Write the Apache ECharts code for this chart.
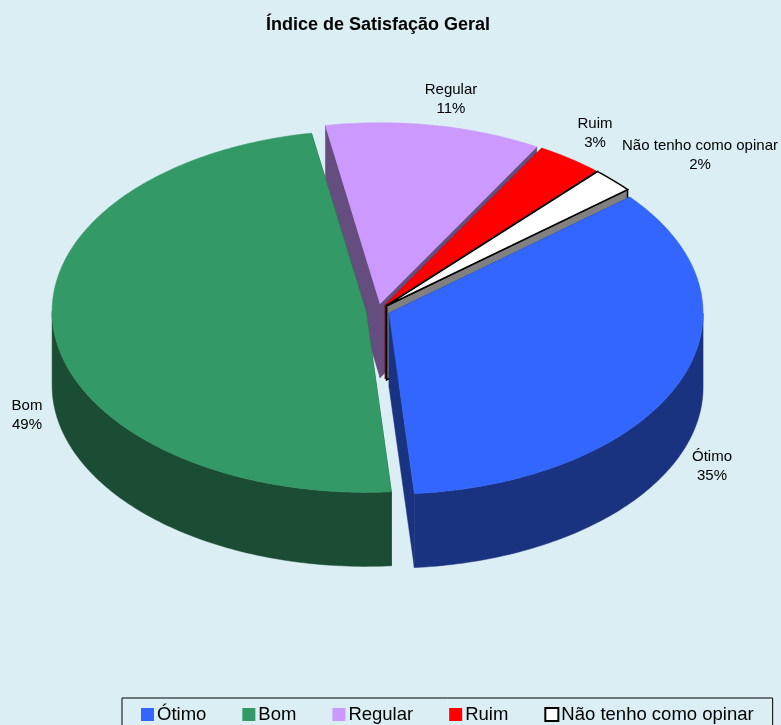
<!DOCTYPE html>
<html>
<head>
<meta charset="utf-8" />
<style>
  html, body { margin: 0; padding: 0; background: #daeef3; overflow: hidden; }
  #chart { width: 781px; height: 725px; }
</style>
</head>
<body>
<div id="chart"></div>
<script src="https://cdn.jsdelivr.net/npm/echarts@6/dist/echarts.min.js"></script>
<script>
const categories = ["Ótimo", "Bom", "Regular", "Ruim", "Não tenho como opinar"];
// shares, the printed labels are these rounded
const shares = [34.8, 48.5, 11.1, 3.4, 2.2];

const topColors = ["#3366ff", "#339966", "#cc99ff", "#ff0000", "#ffffff"];
const sideColors = ["#1a3380", "#1a4d33", "#664d80", "#800000", "#808080"];
const outlineColors = [null, null, null, null, "#000000"];
// back slices first, the front ones paint over them
const stacking = [5, 4, 1, 2, 3];
const labelSpots = [[712, 466], [27, 415], [451, 99], [595, 133], [700, 155]];

const font = "Liberation Sans, Arial, sans-serif";
const pie = { cx: 378, cy: 310.5, rx: 314, ry: 181, depth: 74, explode: 12, startAngle: 39.9 };

const total = shares.reduce((a, b) => a + b, 0);

function rimPoint(c, deg, drop) {
  const r = (deg * Math.PI) / 180;
  return [c[0] + pie.rx * Math.cos(r), c[1] - pie.ry * Math.sin(r) + (drop || 0)];
}

function arcPoints(c, from, to, drop) {
  const steps = Math.max(2, Math.ceil(Math.abs(to - from)));
  const pts = [];
  for (let i = 0; i <= steps; i++) {
    pts.push(rimPoint(c, from + ((to - from) * i) / steps, drop));
  }
  return pts;
}

function renderSlice(index) {
  return function (params, api) {
    const value = api.value(0);
    let before = 0;
    for (let i = 0; i < index; i++) before += shares[i];
    // the pie runs clockwise from startAngle
    const a0 = pie.startAngle - (before / total) * 360;
    const a1 = a0 - (value / total) * 360;
    const mid = ((a0 + a1) / 2) * (Math.PI / 180);
    const c = [
      pie.cx + pie.explode * Math.cos(mid),
      pie.cy - (pie.explode * pie.ry * Math.sin(mid)) / pie.rx,
    ];
    const low = [c[0], c[1] + pie.depth];
    const outlined = outlineColors[index];
    const side = { fill: sideColors[index], stroke: outlined || sideColors[index], lineWidth: outlined ? 1.5 : 0.5 };
    const children = [];

    // the two cut faces
    [a0, a1].forEach((a) => {
      const rim = rimPoint(c, a);
      const rimLow = rimPoint(c, a, pie.depth);
      children.push({ type: "polygon", shape: { points: [c, rim, rimLow, low] }, style: side });
    });

    // outer wall, only the part that faces the viewer
    for (let turn = -360; turn <= 0; turn += 360) {
      const from = Math.min(turn, a0);
      const to = Math.max(turn - 180, a1);
      if (from > to) {
        children.push({
          type: "polygon",
          shape: { points: arcPoints(c, from, to, 0).concat(arcPoints(c, to, from, pie.depth)) },
          style: side,
        });
      }
    }
    children.push({
      type: "polygon",
      shape: { points: [c].concat(arcPoints(c, a0, a1, 0)) },
      style: { fill: topColors[index], stroke: outlined || topColors[index], lineWidth: outlined ? 1.5 : 0.5 },
    });

    children.push({
      type: "text",
      x: labelSpots[index][0],
      y: labelSpots[index][1],
      style: {
        text: categories[index] + "\n" + Math.round(value) + "%",
        fill: "#000000",
        font: "15px " + font,
        lineHeight: 19,
        align: "center",
        verticalAlign: "middle",
      },
    });
    return { type: "group", children };
  };
}

const chart = echarts.init(document.getElementById("chart"), null, { renderer: "canvas" });

chart.setOption({
  animation: false,
  backgroundColor: "#daeef3",
  title: {
    text: "Índice de Satisfação Geral",
    left: 378,
    top: 16,
    padding: 0,
    textAlign: "center",
    textStyle: { fontFamily: font, fontSize: 18, fontWeight: "bold", color: "#000000" },
  },
  legend: {
    left: 122,
    top: 698,
    orient: "horizontal",
    data: categories,
    icon: "rect",
    itemWidth: 13,
    itemHeight: 13,
    itemGap: 36,
    padding: [7, 19, 12, 19],
    borderColor: "#000000",
    borderWidth: 1,
    textStyle: { fontFamily: font, fontSize: 18.5, color: "#000000", padding: [0, 0, 0, -2] },
  },
  series: categories.map((name, i) => ({
    type: "custom",
    name: name,
    coordinateSystem: "none",
    z: stacking[i],
    silent: true,
    itemStyle: { color: topColors[i], borderColor: outlineColors[i] || topColors[i], borderWidth: outlineColors[i] ? 1 : 0 },
    renderItem: renderSlice(i),
    data: [[shares[i]]],
  })),
});
</script>
</body>
</html>
